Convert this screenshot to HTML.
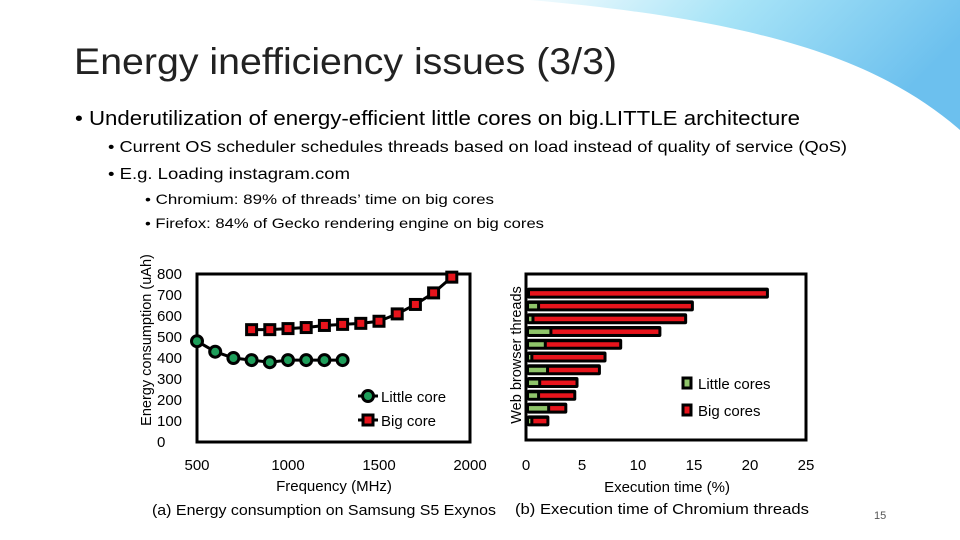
<!DOCTYPE html>
<html><head><meta charset="utf-8"><style>
body{margin:0;width:960px;height:540px;overflow:hidden;background:#fff}
svg{display:block;font-family:"Liberation Sans",sans-serif}
</style></head><body>
<svg id="s" width="960" height="540" viewBox="0 0 960 540">
<defs>
<linearGradient id="bg" x1="0" y1="0" x2="1" y2="0.3">
<stop offset="0" stop-color="#f2fbfe"/><stop offset="0.45" stop-color="#a8e4f7"/><stop offset="1" stop-color="#6cc0ee"/></linearGradient>
</defs>
<path d="M530 0 L960 0 L960 130 C880 60 760 20 530 0 Z" fill="url(#bg)"/>
<text x="74" y="74" font-size="37" fill="#222" textLength="543" lengthAdjust="spacingAndGlyphs">Energy inefficiency issues (3/3)</text>
<text x="75" y="125" font-size="20" fill="#000" textLength="725" lengthAdjust="spacingAndGlyphs">• Underutilization of energy-efficient little cores on big.LITTLE architecture</text>
<text x="108" y="152" font-size="15.5" fill="#000" textLength="739" lengthAdjust="spacingAndGlyphs">• Current OS scheduler schedules threads based on load instead of quality of service (QoS)</text>
<text x="108" y="179" font-size="15.5" fill="#000" textLength="242" lengthAdjust="spacingAndGlyphs">• E.g. Loading instagram.com</text>
<text x="145" y="204" font-size="14" fill="#000" textLength="349" lengthAdjust="spacingAndGlyphs">• Chromium: 89% of threads’ time on big cores</text>
<text x="145" y="228" font-size="14" fill="#000" textLength="399" lengthAdjust="spacingAndGlyphs">• Firefox: 84% of Gecko rendering engine on big cores</text>
<g id="ca"></g>
<g id="cb"></g>
<text x="874" y="519" font-size="11" fill="#555">15</text>
</svg>
<script>
const freqLittle=[500,600,700,800,900,1000,1100,1200,1300];
const energyLittle=[480,430,400,390,380,390,390,390,390];
const freqBig=[800,900,1000,1100,1200,1300,1400,1500,1600,1700,1800,1900];
const energyBig=[535,535,540,545,555,560,565,575,610,655,710,785];
const yTicksA=[0,100,200,300,400,500,600,700,800];
const xTicksA=[500,1000,1500,2000];
const littleTime=[0,0.9,0.4,2.0,1.5,0.3,1.7,1.0,0.9,1.8,0.3];
const totalTime=[21.6,14.9,14.3,12.0,8.5,7.1,6.6,4.6,4.4,3.6,2.0];
const xTicksB=[0,5,10,15,20,25];

const NS="http://www.w3.org/2000/svg";
function mk(p,t,a,txt){const e=document.createElementNS(NS,t);for(const k in a)e.setAttribute(k,a[k]);if(txt!=null)e.textContent=txt;p.appendChild(e);return e;}

// Chart A
const A=document.getElementById('ca');
const ax=v=>197+(v-500)/1500*273, ay=v=>442-v/800*168;
let f=mk(A,'rect',{x:197,y:274,width:273,height:168,fill:'none',stroke:'#000','stroke-width':3});


yTicksA.forEach(v=>{let t=mk(A,'text',{x:157,y:ay(v)+5,'font-size':15},v);

});
xTicksA.forEach(v=>{let t=mk(A,'text',{x:ax(v),y:470,'font-size':15,'text-anchor':'middle'},v);

});
let l=mk(A,'polyline',{points:freqLittle.map((x,i)=>ax(x)+','+ay(energyLittle[i])).join(' '),fill:'none',stroke:'#000','stroke-width':3});


freqLittle.forEach((x,i)=>{let c=mk(A,'circle',{cx:ax(x),cy:ay(energyLittle[i]),r:5.5,fill:'#1e9e5a',stroke:'#000','stroke-width':3});

});
let b=mk(A,'polyline',{points:freqBig.map((x,i)=>ax(x)+','+ay(energyBig[i])).join(' '),fill:'none',stroke:'#000','stroke-width':3});


freqBig.forEach((x,i)=>{let r=mk(A,'rect',{x:ax(x)-5,y:ay(energyBig[i])-5,width:10,height:10,fill:'#e8141c',stroke:'#000','stroke-width':3});

});
let lg1=mk(A,'g',{});


mk(lg1,'line',{x1:358,y1:396,x2:378,y2:396,stroke:'#000','stroke-width':3});
mk(lg1,'circle',{cx:368,cy:396,r:5.5,fill:'#1e9e5a',stroke:'#000','stroke-width':3});
mk(lg1,'text',{x:381,y:402,'font-size':15},'Little core');
let lg2=mk(A,'g',{});


mk(lg2,'line',{x1:358,y1:420,x2:378,y2:420,stroke:'#000','stroke-width':3});
mk(lg2,'rect',{x:363,y:415,width:10,height:10,fill:'#e8141c',stroke:'#000','stroke-width':3});
mk(lg2,'text',{x:381,y:426,'font-size':15},'Big core');
let yt=mk(A,'text',{x:0,y:0,'font-size':14.5,'text-anchor':'middle',transform:'translate(151,340) rotate(-90)'},'Energy consumption (uAh)');


let xt=mk(A,'text',{x:334,y:491,'font-size':15,'text-anchor':'middle'},'Frequency (MHz)');


let ca=mk(A,'text',{x:324,y:515,'font-size':15,'text-anchor':'middle',textLength:344,lengthAdjust:'spacingAndGlyphs'},'(a) Energy consumption on Samsung S5 Exynos');



// Chart B
const B=document.getElementById('cb');
const bx=v=>526+v/25*280, band=166/13, by=i=>274+(i+1.5)*band;
let fb=mk(B,'rect',{x:526,y:274,width:280,height:166,fill:'none',stroke:'#000','stroke-width':3});


xTicksB.forEach(v=>{let t=mk(B,'text',{x:bx(v),y:470,'font-size':15,'text-anchor':'middle'},v);

});
totalTime.forEach((tot,i)=>{const y=by(i);
let o=mk(B,'rect',{x:bx(0)+1,y:y-5.5,width:bx(tot)-bx(0),height:11,rx:2,fill:'#000'});


if(littleTime[i]>0){let g=mk(B,'rect',{x:bx(0)+3,y:y-2,width:Math.max(1,bx(littleTime[i])-bx(0)-2),height:4.5,fill:'#8fc56a'});

}
let r=mk(B,'rect',{x:bx(littleTime[i])+4,y:y-2,width:Math.max(1,bx(tot)-bx(littleTime[i])-6),height:4.5,fill:'#e8141c'});

});
let lb1=mk(B,'g',{});


mk(lb1,'rect',{x:683,y:378,width:8,height:10,fill:'#8fc56a',stroke:'#000','stroke-width':3});
mk(lb1,'text',{x:698,y:389,'font-size':15},'Little cores');
let lb2=mk(B,'g',{});


mk(lb2,'rect',{x:683,y:405,width:8,height:10,fill:'#e8141c',stroke:'#000','stroke-width':3});
mk(lb2,'text',{x:698,y:416,'font-size':15},'Big cores');
let ytb=mk(B,'text',{x:0,y:0,'font-size':14.5,'text-anchor':'middle',transform:'translate(521,355) rotate(-90)'},'Web browser threads');


let xtb=mk(B,'text',{x:667,y:492,'font-size':15,'text-anchor':'middle'},'Execution time (%)');


let cbt=mk(B,'text',{x:662,y:514,'font-size':15,'text-anchor':'middle',textLength:294,lengthAdjust:'spacingAndGlyphs'},'(b) Execution time of Chromium threads');


</script>
</body></html>
